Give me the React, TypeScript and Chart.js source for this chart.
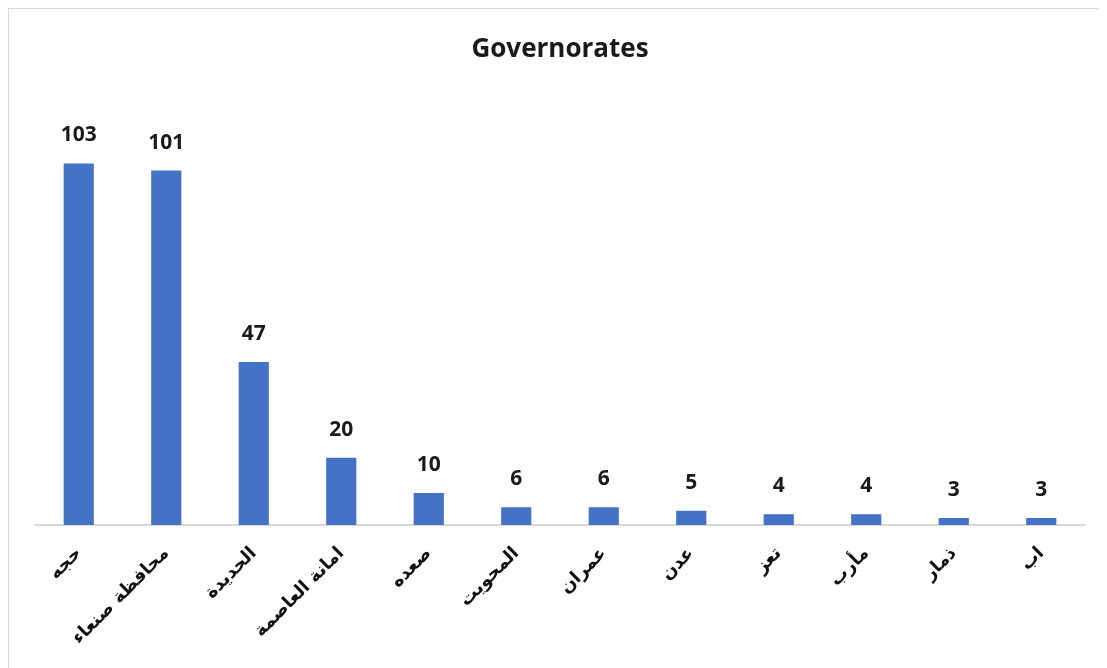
import React, { useEffect, useRef } from "react";
import { Chart, registerables } from "chart.js";

Chart.register(...registerables);

const categories: string[] = [
  "حجه",
  "محافظة صنعاء",
  "الحديدة",
  "امانة العاصمة",
  "صعده",
  "المحويت",
  "عمران",
  "عدن",
  "تعز",
  "مأرب",
  "ذمار",
  "اب",
];
const counts: number[] = [103, 101, 47, 20, 10, 6, 6, 5, 4, 4, 3, 3];
const chartTitle = "Governorates";
const yMin = 1;
const yMax = 120;

const barLabels = {
  id: "barLabels",
  afterDatasetsDraw(chart: any) {
    const ctx = chart.ctx;
    const meta = chart.getDatasetMeta(0);
    const data = chart.data.datasets[0].data;
    ctx.save();
    ctx.font = "bold 21px 'Open Sans', Lato, sans-serif";
    ctx.fillStyle = "#1a1a1a";
    ctx.textAlign = "center";
    ctx.textBaseline = "middle";
    meta.data.forEach((bar: any, i: number) => {
      ctx.fillText(String(data[i]), bar.x, bar.y - 28);
    });
    ctx.restore();
  },
};

export default function App() {
  const canvasRef = useRef<HTMLCanvasElement | null>(null);

  useEffect(() => {
    if (!canvasRef.current) return;
    const chart = new Chart(canvasRef.current, {
      type: "bar",
      data: {
        labels: categories,
        datasets: [
          {
            data: counts,
            backgroundColor: "#4472C4",
            borderWidth: 0,
            categoryPercentage: 1,
            barPercentage: 0.345,
          },
        ],
      },
      options: {
        animation: false,
        responsive: false,
        maintainAspectRatio: false,
        layout: { padding: { left: 26, right: 19, top: 0, bottom: 4 } },
        plugins: {
          legend: { display: false },
          tooltip: { enabled: false },
          title: {
            display: true,
            text: chartTitle,
            color: "#1a1a1a",
            font: { family: "'Open Sans', Lato, sans-serif", size: 26, weight: "bold" },
            padding: { top: 25, bottom: 38 },
          },
        },
        scales: {
          x: {
            grid: { display: false, drawTicks: false },
            border: { display: true, color: "#d9d9d9", width: 2 },
            ticks: {
              color: "#111111",
              font: { family: "'DejaVu Sans', sans-serif", size: 18, weight: "bold" },
              minRotation: 45,
              maxRotation: 45,
              autoSkip: false,
              padding: 18,
            },
            afterFit: (scale: any) => {
              scale.height = 140;
            },
          },
          y: {
            display: false,
            min: yMin,
            max: yMax,
          },
        },
      },
      plugins: [barLabels],
    });
    return () => chart.destroy();
  }, []);

  return (
    <div
      style={{
        border: "1px solid #d9d9d9",
        width: 1097,
        height: 662,
        boxSizing: "border-box",
        background: "#fff",
      }}
    >
      <canvas ref={canvasRef} width={1095} height={660} style={{ display: "block" }} />
    </div>
  );
}
